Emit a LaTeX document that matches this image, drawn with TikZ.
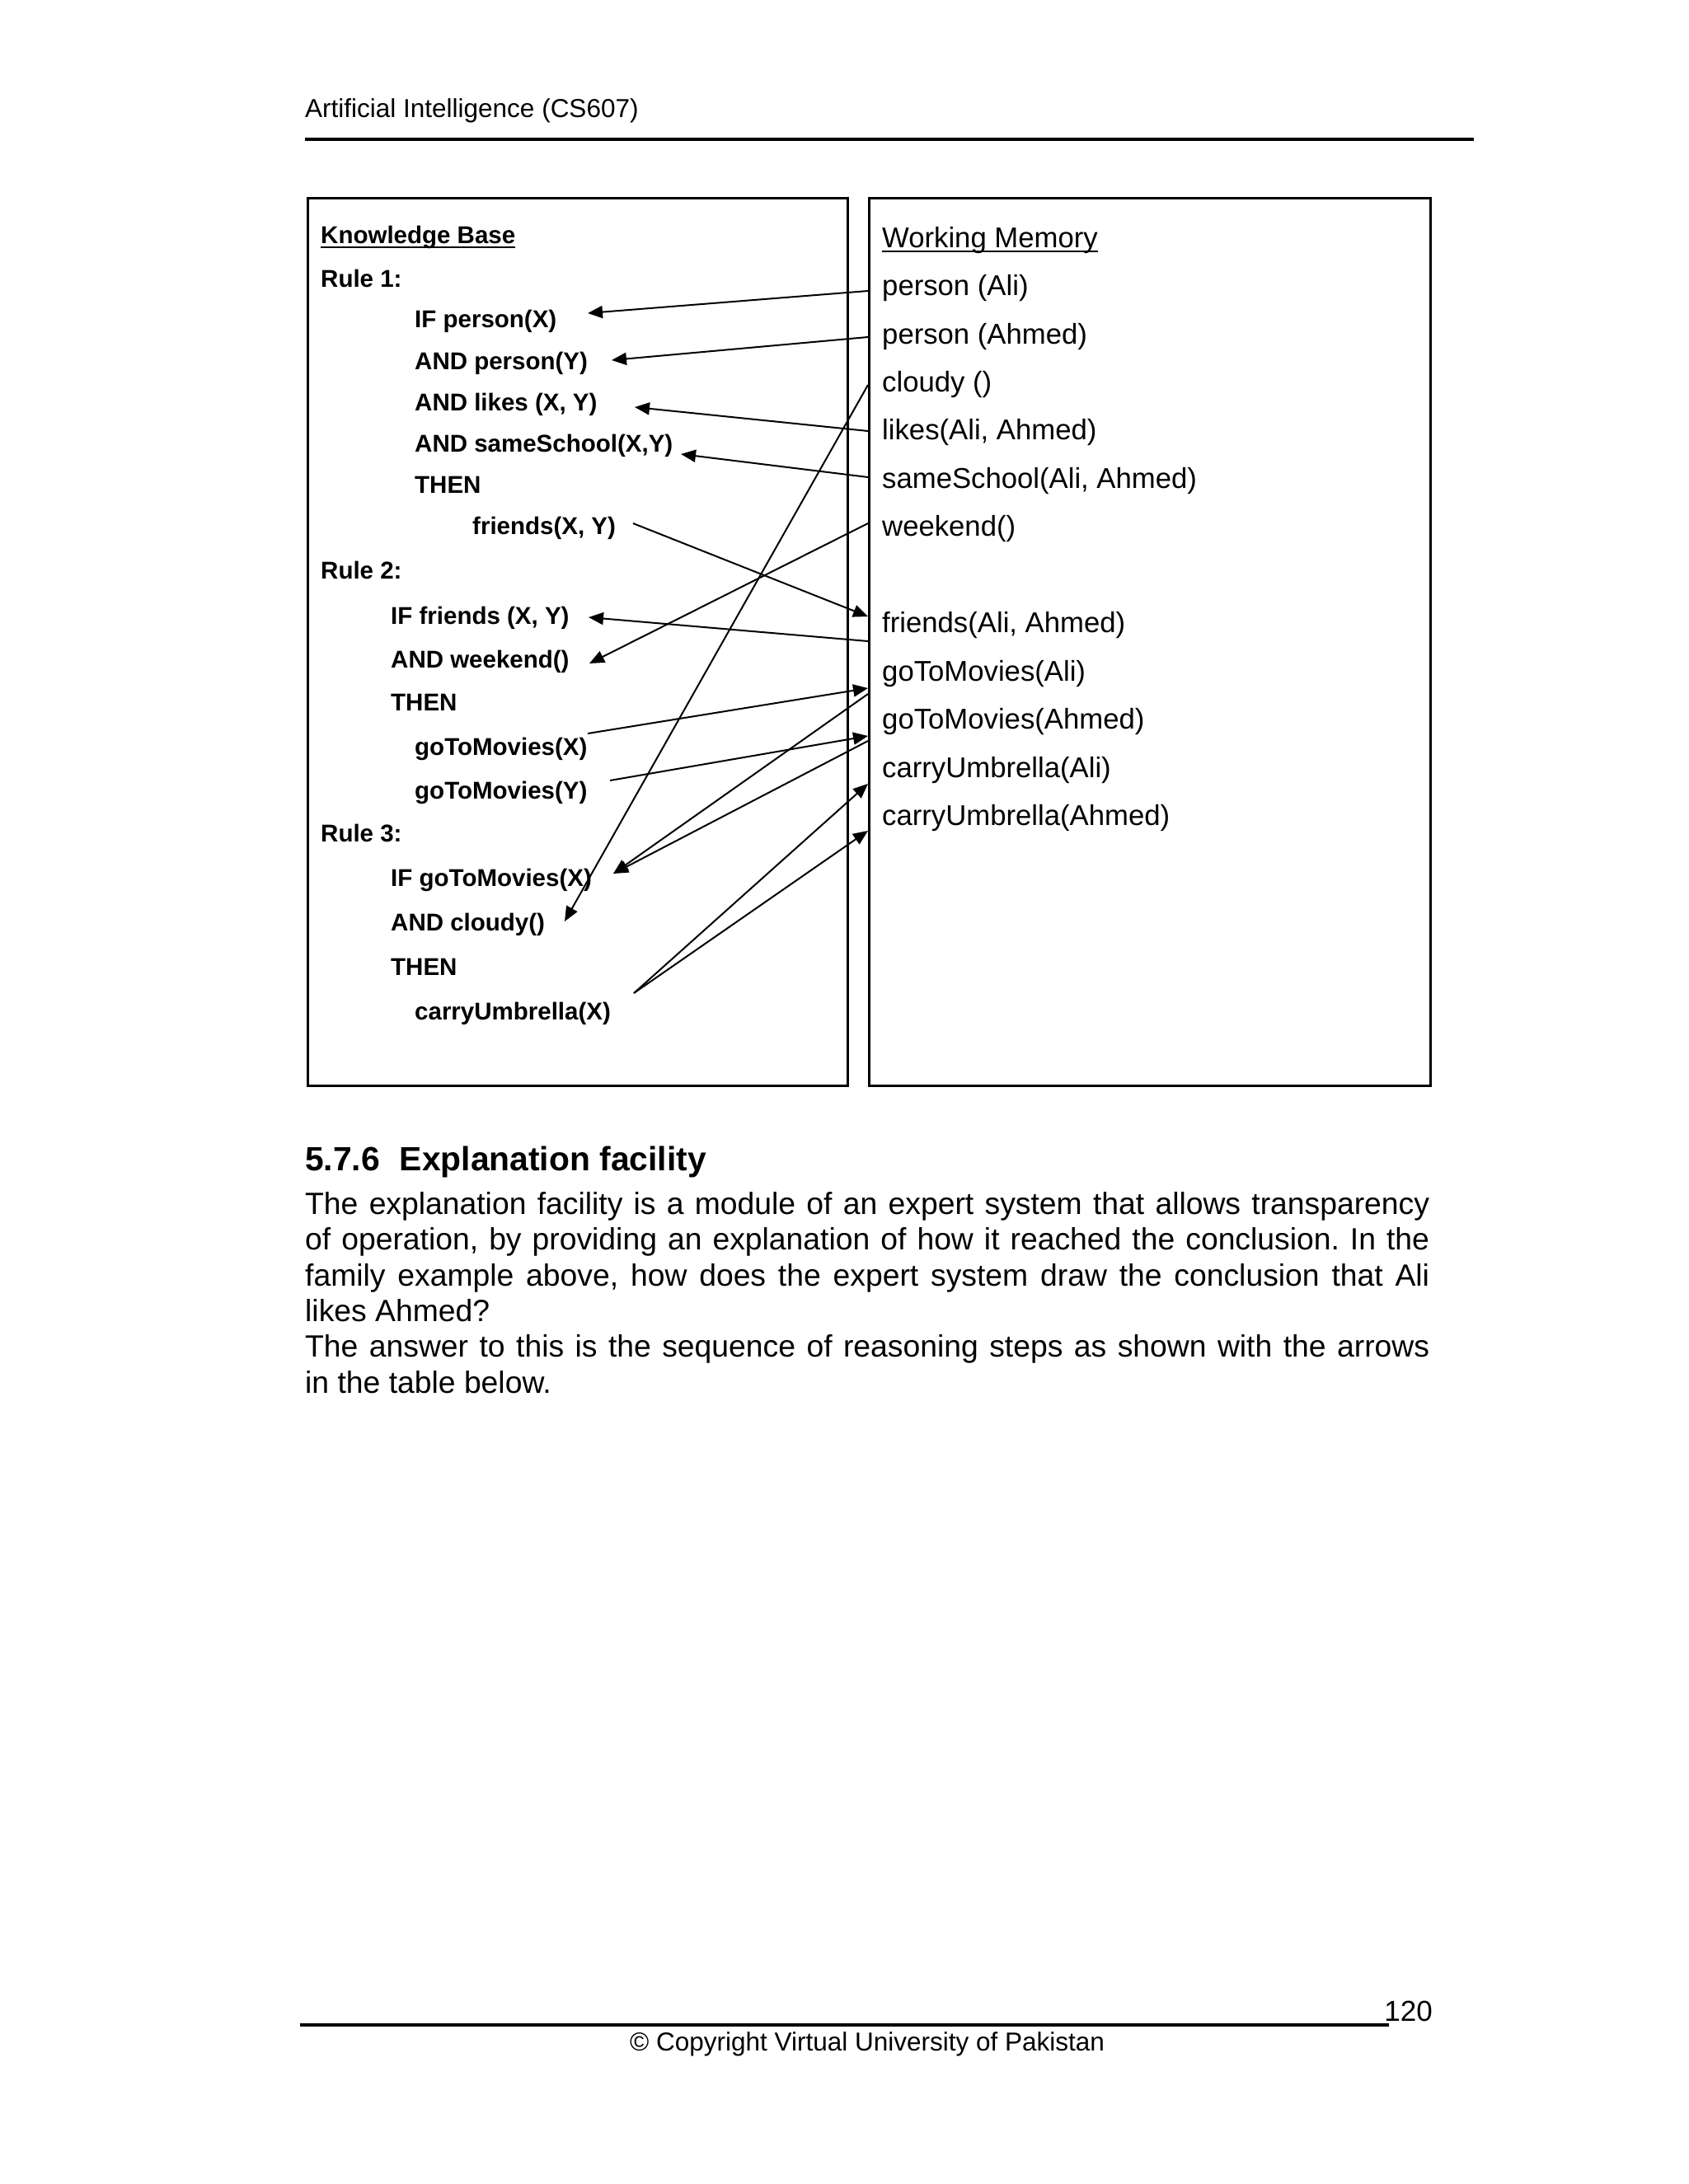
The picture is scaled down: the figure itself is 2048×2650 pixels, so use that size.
\documentclass[tikz,border=0pt]{standalone}
\usepackage{fontspec}
\setmainfont{Liberation Sans}
\usetikzlibrary{arrows.meta}
\frenchspacing
\tikzset{
  kbtext/.style={inner sep=0pt, anchor=base west, font=\fontsize{29.5}{35}\selectfont\bfseries},
  wmtext/.style={inner sep=0pt, anchor=base west, font=\fontsize{34.7}{40}\selectfont},
  bodytext/.style={inner sep=0pt, anchor=base west, font=\fontsize{37.3}{43}\selectfont},
  pagetext/.style={inner sep=0pt, font=\fontsize{31.5}{36}\selectfont},
  panel/.style={draw, line width=2.5pt, inner sep=0pt, anchor=north west},
  link/.style={line width=2pt, -{Triangle[length=18pt,width=15pt]}},
  uline/.style={line width=2pt},
  pagerule/.style={line width=4pt}
}
\begin{document}
\begin{tikzpicture}[x=1pt,y=-1pt]
\useasboundingbox (0,0) rectangle (2048,2650);
\fill[white] (0,0) rectangle (2048,2650);

% header
\node[pagetext, anchor=base west] (hdr) at (370,142) {Artificial Intelligence (CS607)};
\coordinate (hrA) at (370,169);
\coordinate (hrB) at (1788,169);
\draw[pagerule] (hrA) -- (hrB);

% panels
\node[panel, minimum width=655pt, minimum height=1077pt] (kb) at (372,239) {};
\node[panel, minimum width=681pt, minimum height=1077pt] (wm) at (1053,239) {};

% knowledge base text
\node[kbtext] (kbt) at (389,295) {Knowledge Base};
\draw[uline] ([yshift=-4.5pt]kbt.base west) -- ([yshift=-4.5pt]kbt.base east);
\node[kbtext] (r1)  at (389,348) {Rule 1:};
\node[kbtext] (r1a) at (503,397) {IF person(X)};
\node[kbtext] (r1b) at (503,448) {AND person(Y)};
\node[kbtext] (r1c) at (503,498) {AND likes (X, Y)};
\node[kbtext] (r1d) at (503,548) {AND sameSchool(X,Y)};
\node[kbtext] (r1e) at (503,598) {THEN};
\node[kbtext] (r1f) at (573,648) {friends(X, Y)};
\node[kbtext] (r2)  at (389,702) {Rule 2:};
\node[kbtext] (r2a) at (474,757) {IF friends (X, Y)};
\node[kbtext] (r2b) at (474,810) {AND weekend()};
\node[kbtext] (r2c) at (474,862) {THEN};
\node[kbtext] (r2d) at (503,916) {goToMovies(X)};
\node[kbtext] (r2e) at (503,969) {goToMovies(Y)};
\node[kbtext] (r3)  at (389,1021) {Rule 3:};
\node[kbtext] (r3a) at (474,1075) {IF goToMovies(X)};
\node[kbtext] (r3b) at (474,1129) {AND cloudy()};
\node[kbtext] (r3c) at (474,1183) {THEN};
\node[kbtext] (r3d) at (503,1237) {carryUmbrella(X)};

% working memory text
\node[wmtext] (wmt) at (1070,300) {Working Memory};
\draw[uline] ([yshift=-4.5pt]wmt.base west) -- ([yshift=-4.5pt]wmt.base east);
\node[wmtext] (f1)  at (1070,358)  {person (Ali)};
\node[wmtext] (f2)  at (1070,417)  {person (Ahmed)};
\node[wmtext] (f3)  at (1070,475)  {cloudy ()};
\node[wmtext] (f4)  at (1070,533)  {likes(Ali, Ahmed)};
\node[wmtext] (f5)  at (1070,592)  {sameSchool(Ali, Ahmed)};
\node[wmtext] (f6)  at (1070,650)  {weekend()};
\node[wmtext] (f7)  at (1070,767)  {friends(Ali, Ahmed)};
\node[wmtext] (f8)  at (1070,826)  {goToMovies(Ali)};
\node[wmtext] (f9)  at (1070,884)  {goToMovies(Ahmed)};
\node[wmtext] (f10) at (1070,943)  {carryUmbrella(Ali)};
\node[wmtext] (f11) at (1070,1001) {carryUmbrella(Ahmed)};

% connector end points
\coordinate (f1o)  at (1053,353);  \coordinate (r1ai) at (713,380);
\coordinate (f2o)  at (1053,409);  \coordinate (r1bi) at (742,437);
\coordinate (f4o)  at (1053,523);  \coordinate (r1ci) at (770,494);
\coordinate (f5o)  at (1053,579);  \coordinate (r1di) at (826,551);
\coordinate (r1fo) at (768,635);   \coordinate (f7i)  at (1053,748);
\coordinate (f3o)  at (1053,467);  \coordinate (r3bi) at (685,1118);
\coordinate (f6o)  at (1053,635);  \coordinate (r2bi) at (715,805);
\coordinate (f7o)  at (1053,778);  \coordinate (r2ai) at (714,749);
\coordinate (r2do) at (713,890);   \coordinate (f8i)  at (1053,835);
\coordinate (r2eo) at (740,947);   \coordinate (f9i)  at (1053,893);
\coordinate (f8o)  at (1053,842);  \coordinate (r3ai) at (744,1060);
\coordinate (f9o)  at (1053,899);
\coordinate (r3do) at (769,1205);  \coordinate (f10i) at (1053,951);
\coordinate (f11i) at (1053,1008);

% connectors
\draw[link] (f1o) -- (r1ai);
\draw[link] (f2o) -- (r1bi);
\draw[link] (f4o) -- (r1ci);
\draw[link] (f5o) -- (r1di);
\draw[link] (r1fo) -- (f7i);
\draw[link] (f3o) -- (r3bi);
\draw[link] (f6o) -- (r2bi);
\draw[link] (f7o) -- (r2ai);
\draw[link] (r2do) -- (f8i);
\draw[link] (r2eo) -- (f9i);
\draw[link] (f8o) -- (r3ai);
\draw[link] (f9o) -- (r3ai);
\draw[link] (r3do) -- (f10i);
\draw[link] (r3do) -- (f11i);

% section text
\node[bodytext, font=\fontsize{40.8}{48}\selectfont\bfseries] (sec) at (370,1420) {5.7.6\hspace{24pt}Explanation facility};
\node[bodytext] (p1) at (370,1473) {\makebox[1364pt][s]{The explanation facility is a module of an expert system that allows transparency}};
\node[bodytext] (p2) at (370,1516) {\makebox[1364pt][s]{of operation, by providing an explanation of how it reached the conclusion. In the}};
\node[bodytext] (p3) at (370,1560) {\makebox[1364pt][s]{family example above, how does the expert system draw the conclusion that Ali}};
\node[bodytext] (p4) at (370,1603) {likes Ahmed?};
\node[bodytext] (p5) at (370,1646) {\makebox[1364pt][s]{The answer to this is the sequence of reasoning steps as shown with the arrows}};
\node[bodytext] (p6) at (370,1690) {in the table below.};

% footer
\node[pagetext, anchor=base east, font=\fontsize{35}{40}\selectfont] (pg) at (1738,2452) {120};
\coordinate (frA) at (364,2457);
\coordinate (frB) at (1685,2457);
\draw[line width=3.5pt] (frA) -- (frB);
\node[pagetext, anchor=base] (copy) at (1052,2488) {\textcopyright{} Copyright Virtual University of Pakistan};
\end{tikzpicture}
\end{document}
